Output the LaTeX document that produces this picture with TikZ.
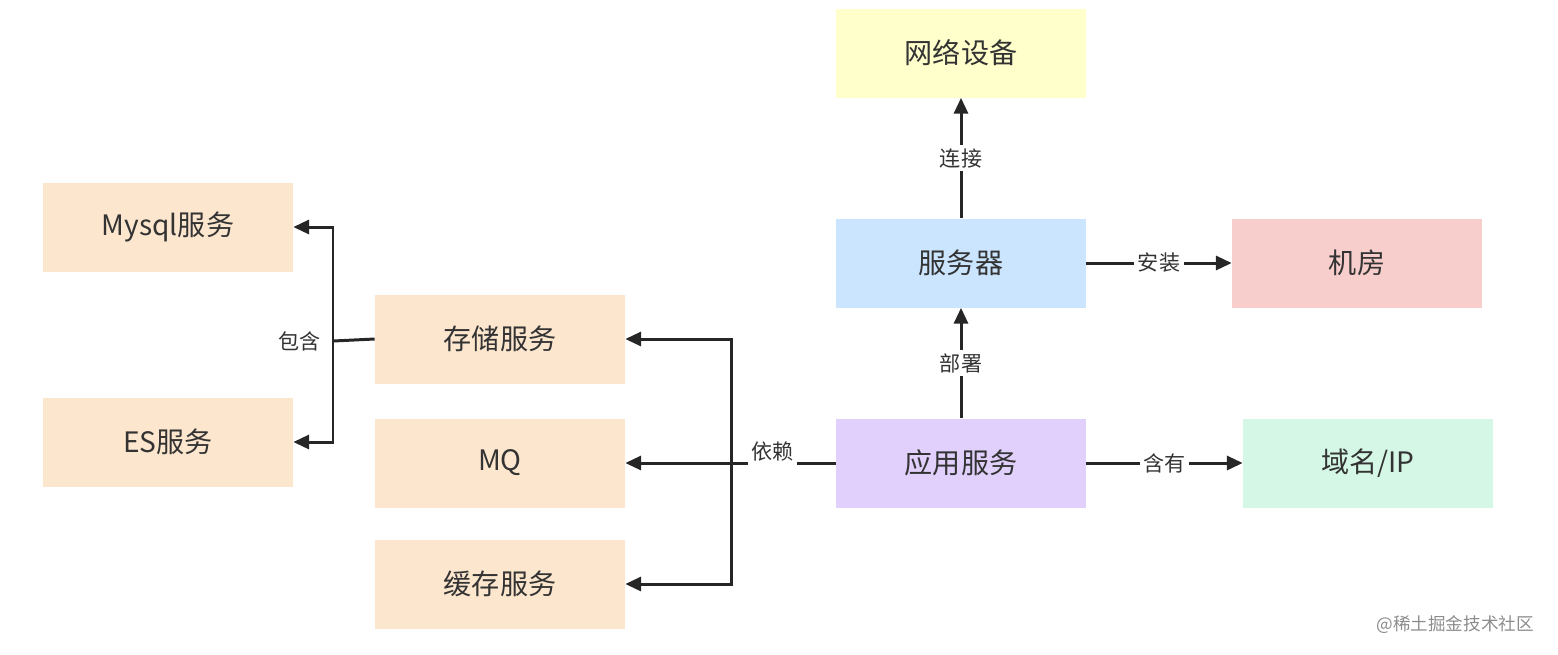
\documentclass[tikz,border=0pt]{standalone}
\usepackage{fontspec}
\setmainfont{Noto Sans CJK SC}
\usetikzlibrary{arrows.meta}
\definecolor{cyellow}{HTML}{FFFFCC}
\definecolor{cblue}{HTML}{CCE5FF}
\definecolor{cpink}{HTML}{F8CECC}
\definecolor{cpurple}{HTML}{E0D0FB}
\definecolor{cmint}{HTML}{D5F8E6}
\definecolor{cpeach}{HTML}{FCE6CE}
\tikzset{
  box/.style = {rectangle, minimum width=5cm, minimum height=1.78cm,
    inner sep=0pt, font=\fontsize{16}{18}\selectfont, text=black!80},
  link/.style = {-{Triangle[length=9pt,width=8pt]}, line width=1.7pt, black!85},
  plain/.style = {line width=1.7pt, black!85},
  lbl/.style = {fill=white, inner sep=2pt, font=\fontsize{12}{14}\selectfont, text=black!80},
}
\begin{document}
\begin{tikzpicture}[x=0.02cm,y=-0.02cm]
  \useasboundingbox (0,0) rectangle (1558,654);

  \node[box, fill=cyellow] (net) at (961,53) {网络设备};
  \node[box, fill=cblue] (srv) at (961,263) {服务器};
  \node[box, fill=cpink] (room) at (1357,263) {机房};
  \node[box, fill=cpurple] (app) at (961,463) {应用服务};
  \node[box, fill=cmint] (dom) at (1368,463) {域名/IP};
  \node[box, fill=cpeach] (store) at (500,339) {存储服务};
  \node[box, fill=cpeach] (mq) at (500,463) {MQ};
  \node[box, fill=cpeach] (cache) at (500,584) {缓存服务};
  \node[box, fill=cpeach] (mysql) at (168,227) {Mysql服务};
  \node[box, fill=cpeach] (es) at (168,442) {ES服务};

  \coordinate (dj) at (731,463);
  \coordinate (sj) at (333,341);

  % right part
  \draw[link] (srv) -- node[lbl] {连接} (net);
  \draw[link] (app) -- node[lbl] {部署} (srv);
  \draw[link] (srv) -- node[lbl] {安装} (room);
  \draw[link] (app) -- node[lbl] {含有} (dom);

  % dependencies
  \draw[link] (app.west) -- node[lbl, above=-2pt, pos=0.3] {依赖} (mq.east);
  \draw[link] (dj) |- (store.east);
  \draw[link] (dj) |- (cache.east);

  % storage
  \draw[plain] (store.west) -- node[lbl, left=4pt, pos=1, fill=none] {包含} (sj);
  \draw[link] (sj) |- (mysql.east);
  \draw[link] (sj) |- (es.east);

  \node[font=\fontsize{10}{12}\selectfont, text=black!45, anchor=east] (wm) at (1540,625) {@稀土掘金技术社区};
\end{tikzpicture}
\end{document}
